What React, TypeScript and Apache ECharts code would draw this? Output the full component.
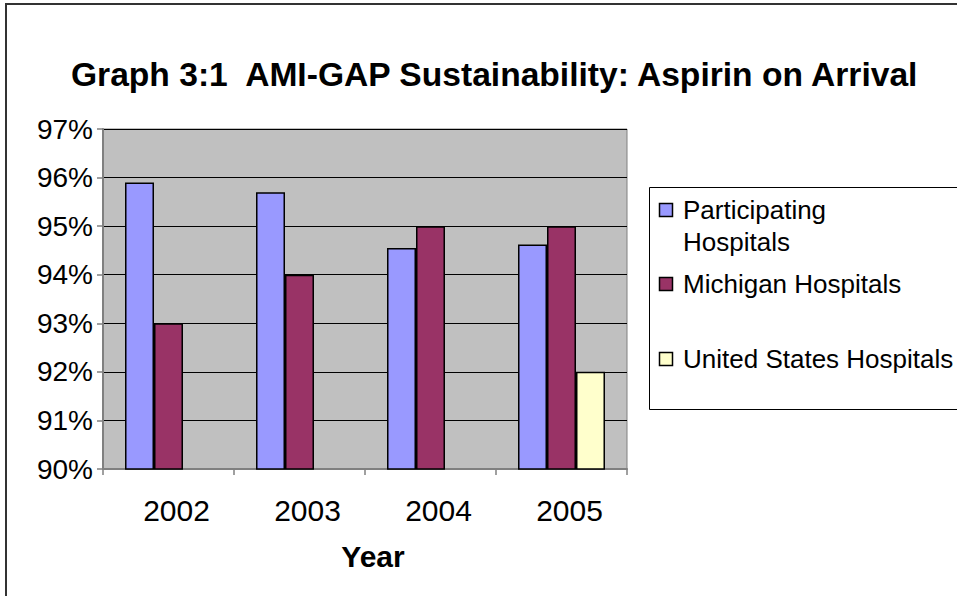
import React, { useEffect, useRef } from "react";
import * as echarts from "echarts";

const years = ["2002", "2003", "2004", "2005"];
const seriesNames = ["Participating Hospitals", "Michigan Hospitals", "United States Hospitals"];
const legendLines = [["Participating", "Hospitals"], ["Michigan Hospitals"], ["United States Hospitals"]];
const participating = [95.9, 95.7, 94.55, 94.62];
const michigan = [93, 94, 95, 95];
const unitedStates = [null, null, null, 92];
const colors = ["#9999FF", "#993366", "#FFFFCC"];
const yMin = 90;
const yMax = 97;
const yStep = 1;

const FONT = "'Liberation Sans', Arial, sans-serif";

export default function App() {
  const ref = useRef<HTMLDivElement>(null);
  useEffect(() => {
    if (!ref.current) return;
    const chart = echarts.init(ref.current, undefined, { renderer: "svg" });
    const seriesData = [participating, michigan, unitedStates];
    const legendTop = [210, 284, 359];
    const legendGraphics: any[] = [
      {
        type: "rect",
        shape: { x: 649.5, y: 187.5, width: 400, height: 222 },
        style: { fill: "#ffffff", stroke: "#000000", lineWidth: 1 },
        z: 10,
      },
    ];
    seriesNames.forEach((_, i) => {
      legendGraphics.push({
        type: "rect",
        shape: { x: 659.5, y: legendTop[i] - 6.5, width: 13, height: 13 },
        style: { fill: colors[i], stroke: "#000000", lineWidth: 1.5 },
        z: 11,
      });
      legendLines[i].forEach((line, j) => {
        legendGraphics.push({
          type: "text",
          x: 683,
          y: legendTop[i] + j * 32,
          style: {
            text: line,
            fontFamily: FONT,
            fontSize: 26,
            fill: "#000000",
            verticalAlign: "middle",
            align: "left",
          },
          z: 11,
        });
      });
    });

    chart.setOption({
      animation: false,
      backgroundColor: "#ffffff",
      title: {
        text: "Graph 3:1  AMI-GAP Sustainability: Aspirin on Arrival",
        left: 71,
        top: 57,
        padding: 0,
        textStyle: { fontFamily: FONT, fontSize: 33.6, fontWeight: "bold", color: "#000000" },
      },
      grid: {
        left: 103,
        top: 129,
        width: 524,
        height: 340,
        show: true,
        backgroundColor: "#C0C0C0",
        borderColor: "#808080",
        borderWidth: 1,
      },
      xAxis: {
        type: "category",
        data: years,
        name: "Year",
        nameLocation: "middle",
        nameGap: 72,
        nameTextStyle: { fontFamily: FONT, fontSize: 30, fontWeight: "bold", color: "#000000", padding: [0, 0, 0, 16] },
        axisLine: { show: true, lineStyle: { color: "#808080", width: 2 } },
        axisTick: { show: true, length: 6, lineStyle: { color: "#808080", width: 1.5 } },
        axisLabel: { fontFamily: FONT, fontSize: 30, color: "#000000", margin: 26, padding: [0, 0, 0, 16] },
        splitLine: { show: false },
      },
      yAxis: {
        type: "value",
        min: yMin,
        max: yMax,
        interval: yStep,
        axisLine: { show: true, lineStyle: { color: "#808080", width: 2 } },
        axisTick: { show: true, length: 6, lineStyle: { color: "#808080", width: 1.5 } },
        axisLabel: { fontFamily: FONT, fontSize: 28, color: "#000000", margin: 10, padding: [8, 0, 0, 0], formatter: "{value}%" },
        splitLine: { show: true, lineStyle: { color: "#000000", width: 1.2 } },
      },
      series: seriesNames.map((name, i) => ({
        type: "bar",
        name,
        data: seriesData[i],
        barGap: "0%",
        barCategoryGap: "33.6%",
        itemStyle: { color: colors[i], borderColor: "#000000", borderWidth: 1.5 },
      })),
      graphic: [
        {
          type: "rect",
          shape: { x: 6, y: 4, width: 1200, height: 800 },
          style: { fill: "none", stroke: "#333333", lineWidth: 2 },
          silent: true,
          z: 0,
        },
        ...legendGraphics,
      ],
    });
    return () => chart.dispose();
  }, []);
  return (
    <div
      ref={ref}
      style={{ position: "fixed", left: 0, top: 0, width: 957, height: 596 }}
    />
  );
}
